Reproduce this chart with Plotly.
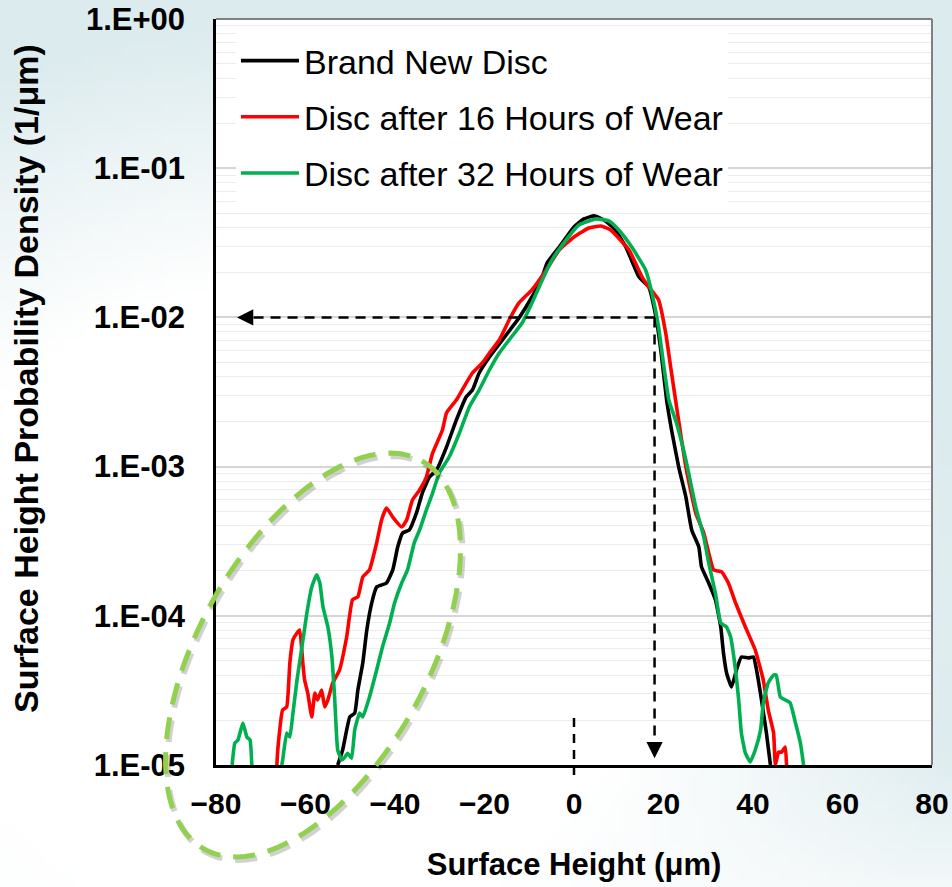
import math, zlib, struct, base64
import plotly.graph_objects as go

# ---------------- data ----------------
new_x = [-52.8, -51.7, -50.1, -49.0, -48.3, -47.2, -46.3, -45.2, -44.1, -41.9, -40.5, -39.4, -38.3, -36.8,
         -35.2, -33.9, -32.3, -30.7, -28.5, -26.3, -24.1, -22.7, -21.2, -18.9, -16.0, -13.8, -12.3, -9.4,
         -7.1, -6.0, -3.3, 0.0, 2.2, 4.5, 6.7, 8.9, 11.6, 14.5, 16.7, 18.3, 19.4, 20.7, 21.8, 23.4, 25.0,
         26.3, 27.9, 28.5, 30.1, 31.6, 32.8, 33.4, 34.1, 35.2, 36.3, 37.4, 39.0, 40.1, 40.8, 41.9, 43.0, 43.9]
new_y = [1.0e-5, 1.26e-5, 2.1e-5, 2.23e-5, 3.18e-5, 4.83e-5, 8.03e-5, 1.22e-4, 1.56e-4, 1.66e-4, 2.03e-4,
         2.89e-4, 3.59e-4, 3.76e-4, 4.89e-4, 6.65e-4, 8.51e-4, 9.49e-4, 1.35e-3, 2.05e-3, 2.93e-3, 3.26e-3,
         4.24e-3, 5.43e-3, 7.06e-3, 8.63e-3, 9.91e-3, 1.37e-2, 1.87e-2, 2.32e-2, 2.96e-2, 4.04e-2, 4.57e-2,
         4.79e-2, 4.50e-2, 3.97e-2, 2.96e-2, 1.87e-2, 1.60e-2, 1.01e-2, 6.04e-3, 2.79e-3, 1.76e-3, 9.93e-4,
         6.25e-4, 3.76e-4, 2.89e-4, 2.12e-4, 1.66e-4, 1.28e-4, 8.41e-5, 5.63e-5, 4.14e-5, 3.33e-5, 4.33e-5,
         5.30e-5, 5.21e-5, 5.30e-5, 4.33e-5, 2.73e-5, 1.64e-5, 1.0e-5]

h16_x = [-66.4, -66.2, -65.1, -64.2, -63.5, -62.8, -61.9, -61.3, -60.6, -60.2, -59.5, -58.6, -57.9, -57.3,
         -56.4, -55.7, -55.0, -53.9, -52.4, -50.8, -49.5, -48.3, -47.2, -45.7, -44.1, -43.0, -41.9, -40.5,
         -38.5, -37.4, -36.1, -34.5, -33.0, -31.6, -29.4, -28.5, -26.3, -24.1, -22.7, -20.5, -18.9, -16.7,
         -14.5, -12.3, -9.4, -6.2, -3.3, 0.0, 3.3, 6.0, 8.2, 12.3, 15.2, 16.7, 18.9, 20.5, 21.6, 22.7, 25.0,
         27.2, 29.0, 30.1, 31.2, 33.0, 34.5, 36.1, 38.3, 40.5, 42.3, 43.4, 44.6, 45.0, 45.7, 46.4, 47.2, 47.5]
h16_y = [1.0e-5, 1.26e-5, 2.34e-5, 2.45e-5, 4.83e-5, 6.89e-5, 7.67e-5, 8.03e-5, 4.83e-5, 3.71e-5, 3.04e-5,
         2.10e-5, 3.04e-5, 2.73e-5, 3.18e-5, 2.45e-5, 2.73e-5, 3.55e-5, 4.33e-5, 7.21e-5, 1.28e-4, 1.34e-4,
         1.82e-4, 2.03e-4, 3.08e-4, 4.39e-4, 5.28e-4, 4.59e-4, 3.94e-4, 4.39e-4, 5.97e-4, 6.97e-4, 8.51e-4,
         1.23e-3, 1.76e-3, 2.29e-3, 2.79e-3, 3.63e-3, 4.24e-3, 4.95e-3, 5.77e-3, 7.06e-3, 9.61e-3, 1.25e-2,
         1.53e-2, 2.08e-2, 2.83e-2, 3.46e-2, 3.97e-2, 4.10e-2, 3.85e-2, 2.83e-2, 1.87e-2, 1.60e-2, 1.31e-2,
         7.85e-3, 4.65e-3, 2.79e-3, 9.93e-4, 4.89e-4, 3.59e-4, 2.64e-4, 2.03e-4, 1.97e-4, 1.66e-4, 1.22e-4,
         8.41e-5, 5.90e-5, 3.71e-5, 2.34e-5, 1.64e-5, 1.0e-5, 1.22e-5, 1.22e-5, 1.32e-5, 1.0e-5]

h32_x = [-76.4, -75.8, -75.1, -74.0, -73.1, -72.4, -72.0, None,
         -65.3, -65.1, -64.2, -63.5, -62.8, -61.9, -60.8, -59.7, -58.6, -57.5, -56.8, -56.1, -55.0, -54.1,
         -53.5, -52.8, -51.9, -51.2, -50.6, -49.7, -49.0, -47.9, -47.2, -45.7, -44.1, -42.8, -41.2, -40.1,
         -38.5, -37.2, -35.7, -34.5, -33.0, -31.6, -30.1, -27.9, -25.6, -23.4, -21.2, -18.9, -16.7, -14.5,
         -11.6, -9.4, -7.1, -4.9, -1.8, 1.1, 4.9, 7.8, 10.0, 12.9, 16.0, 17.4, 18.9, 20.1, 21.2, 22.9, 25.0,
         27.2, 29.0, 30.1, 31.6, 32.8, 34.1, 35.0, 36.1, 36.8, 37.4, 38.3, 39.4, 40.5, 41.7, 42.3, 43.4,
         44.6, 45.2, 46.1, 47.2, 48.3, 49.5, 50.6, 51.3]
h32_y = [1.0e-5, 1.40e-5, 1.47e-5, 1.91e-5, 1.54e-5, 1.47e-5, 1.0e-5, None,
         1.0e-5, 1.08e-5, 1.64e-5, 1.54e-5, 2.23e-5, 3.71e-5, 6.18e-5, 1.04e-4, 1.56e-4, 1.88e-4, 1.66e-4,
         1.15e-4, 8.41e-5, 5.30e-5, 2.86e-5, 1.26e-5, 1.08e-5, 1.13e-5, 1.20e-5, 1.11e-5, 1.72e-5, 2.23e-5,
         2.10e-5, 2.86e-5, 4.33e-5, 6.18e-5, 8.95e-5, 1.22e-4, 1.66e-4, 2.03e-4, 3.08e-4, 3.76e-4, 5.12e-4,
         6.65e-4, 9.06e-4, 1.16e-3, 1.68e-3, 2.51e-3, 3.26e-3, 4.44e-3, 5.77e-3, 7.06e-3, 9.17e-3, 1.25e-2,
         1.78e-2, 2.43e-2, 3.30e-2, 4.16e-2, 4.57e-2, 4.43e-2, 3.85e-2, 2.96e-2, 2.08e-2, 1.46e-2, 8.63e-3,
         4.65e-3, 2.79e-3, 1.96e-3, 1.11e-3, 5.36e-4, 3.37e-4, 2.26e-4, 1.42e-4, 8.95e-5, 8.41e-5, 7.21e-5,
         4.33e-5, 2.73e-5, 1.64e-5, 1.20e-5, 1.05e-5, 1.26e-5, 1.72e-5, 2.61e-5, 3.55e-5, 4.01e-5, 4.01e-5,
         2.86e-5, 2.73e-5, 2.61e-5, 1.91e-5, 1.40e-5, 1.0e-5]

series_names = ["Brand New Disc", "Disc after 16 Hours of Wear", "Disc after 32 Hours of Wear"]
series_colors = ["#000000", "#ff0000", "#00b050"]

x_ticks = [-80, -60, -40, -20, 0, 20, 40, 60, 80]
y_ticks = [1e-5, 1e-4, 1e-3, 1e-2, 1e-1, 1e0]
y_ticktext = ["1.E-05", "1.E-04", "1.E-03", "1.E-02", "1.E-01", "1.E+00"]
y_minor = [k * 10.0 ** e for e in range(-5, 0) for k in range(2, 10)]

x_title = "Surface Height (μm)"
y_title = "Surface Height Probability Density (1/μm)"

marker_level = 1e-2      # dashed arrow level
marker_x = 18            # dashed arrow position (μm)

# ---------------- geometry ----------------
W, H = 952, 887
ML, MR, MT, MB = 216, 20, 19, 122
PW, PH = W - ML - MR, H - MT - MB
FONT = "Liberation Sans, Arial, sans-serif"


def px2paper(px, py):
    return (px - ML) / PW, (H - MB - py) / PH


# ---------------- background gradient image ----------------
def make_png(w, h):
    rows = []
    teal = (220, 235, 238)
    for j in range(h):
        row = bytearray([0])
        for i in range(w):
            x, y = i / (w - 1), j / (h - 1)
            r = math.hypot((x - 0.3) * 1.0, (y - 0.68) * 1.1)
            t = min(1.0, max(0.0, (r - 0.40) / 0.33))
            t *= min(1.0, max(0.35, (1.0 - y) / 0.25 + 0.35))
            t = max(t, min(1.0, max(0.0, (0.04 - y) / 0.04)) * 0.85)
            row += bytes(int(round(255 + (c - 255) * t)) for c in teal)
        rows.append(bytes(row))
    raw = b"".join(rows)

    def chunk(tag, data):
        c = struct.pack(">I", len(data)) + tag + data
        return c + struct.pack(">I", zlib.crc32(tag + data) & 0xffffffff)

    png = b"\x89PNG\r\n\x1a\n" + chunk(b"IHDR", struct.pack(">IIBBBBB", w, h, 8, 2, 0, 0, 0))
    png += chunk(b"IDAT", zlib.compress(raw, 9)) + chunk(b"IEND", b"")
    return "data:image/png;base64," + base64.b64encode(png).decode()


fig = go.Figure()
for xs, ys, name, col in zip([new_x, h16_x, h32_x], [new_y, h16_y, h32_y], series_names, series_colors):
    fig.add_trace(go.Scatter(x=xs, y=ys, mode="lines", name=name, legendgroup=name,
                             line=dict(color=col, width=3.6, shape="spline", smoothing=0.4),
                             connectgaps=False))

# background
fig.add_layout_image(dict(source=make_png(96, 90), xref="paper", yref="paper",
                          x=-ML / PW, y=1 + MT / PH, sizex=W / PW, sizey=H / PH,
                          xanchor="left", yanchor="top", sizing="stretch", layer="below"))
fig.add_shape(type="rect", xref="paper", yref="paper", x0=0, x1=1, y0=0, y1=1,
              fillcolor="white", line_width=0, layer="below")
# top / right border (gray)
fig.add_shape(type="line", xref="paper", yref="paper", x0=0, x1=1, y0=1, y1=1,
              line=dict(color="#808080", width=2))
fig.add_shape(type="line", xref="paper", yref="paper", x0=1, x1=1, y0=0, y1=1,
              line=dict(color="#808080", width=2))

# dashed arrows
dash = "10px,7px"
fig.add_shape(type="line", xref="x", yref="y", x0=marker_x, x1=-74.0, y0=marker_level, y1=marker_level,
              line=dict(color="black", width=2.5, dash=dash))
fig.add_shape(type="line", xref="x", yref="y", x0=marker_x, x1=marker_x, y0=marker_level, y1=1.25e-5,
              line=dict(color="black", width=2.5, dash=dash))
fig.add_annotation(x=-75.3, y=math.log10(marker_level), xref="x", yref="y", text="", showarrow=True,
                   ax=14, ay=0, arrowhead=2, arrowsize=1.3, arrowwidth=2.5, arrowcolor="black")
fig.add_annotation(x=marker_x, y=-4.955, xref="x", yref="y", text="", showarrow=True,
                   ax=0, ay=-14, arrowhead=2, arrowsize=1.3, arrowwidth=2.5, arrowcolor="black")
# short dashed marker at zero
fig.add_shape(type="line", xref="x", yref="paper", x0=0, x1=0, y0=-10 / PH, y1=53 / PH,
              line=dict(color="black", width=2.5, dash="9px,7px"))

# dashed ellipse around the lower-left tails
cx, cy, a, b, th = 313, 655, 222.5, 114, math.radians(60.7)
pts = []
for k in range(181):
    t = 2 * math.pi * k / 180
    px = cx + a * math.cos(t) * math.cos(th) + b * math.sin(t) * math.sin(th)
    py = cy - a * math.cos(t) * math.sin(th) + b * math.sin(t) * math.cos(th)
    pts.append((px, py))


def path_of(points, dx=0, dy=0):
    s = []
    for i, (px, py) in enumerate(points):
        u, v = px2paper(px + dx, py + dy)
        s.append(("M" if i == 0 else "L") + f"{u:.5f},{v:.5f}")
    return " ".join(s) + " Z"


fig.add_shape(type="path", xref="paper", yref="paper", path=path_of(pts, 2, 3),
              line=dict(color="rgba(0,0,0,0.18)", width=6, dash="22px,13px"))
fig.add_shape(type="path", xref="paper", yref="paper", path=path_of(pts),
              line=dict(color="#92d050", width=5, dash="22px,13px"))

# y-axis title as a rotated annotation (positioned like the reference)
tx, ty = px2paper(26, 379)
fig.add_annotation(x=tx, y=ty, xref="paper", yref="paper", text=y_title, showarrow=False,
                   textangle=-90, xanchor="center", yanchor="middle",
                   font=dict(size=34, weight="bold", family=FONT, color="black"))

fig.update_layout(
    width=W, height=H,
    margin=dict(l=ML, r=MR, t=MT, b=MB),
    paper_bgcolor="white", plot_bgcolor="white",
    font=dict(family=FONT, color="black"),
    showlegend=True,
    legend=dict(x=(236 - ML) / PW, y=1 - (32 - MT) / PH, xanchor="left", yanchor="top",
                bgcolor="white", borderwidth=0, font=dict(size=34, family=FONT),
                tracegroupgap=9, traceorder="grouped", itemwidth=58),
    xaxis=dict(range=[-80, 80], tickvals=x_ticks, showgrid=False, zeroline=False,
               showline=True, linecolor="black", linewidth=2.5,
               ticks="outside", ticklen=10, tickcolor="rgba(0,0,0,0)",
               tickfont=dict(size=30, weight="bold"),
               title=dict(text=x_title, font=dict(size=31, weight="bold"), standoff=35),
               automargin=False),
    yaxis=dict(type="log", range=[-5, 0], tickvals=y_ticks, ticktext=y_ticktext,
               showgrid=True, gridcolor="#d6d6d6", gridwidth=1.5, zeroline=False,
               showline=True, linecolor="black", linewidth=2.5,
               ticks="outside", ticklen=22, tickcolor="rgba(0,0,0,0)",
               tickfont=dict(size=31, weight="bold"),
               minor=dict(tickvals=y_minor, showgrid=True, gridcolor="#ececec", gridwidth=1.2, ticks=""),
               automargin=False),
)

fig.write_html("out.html")
